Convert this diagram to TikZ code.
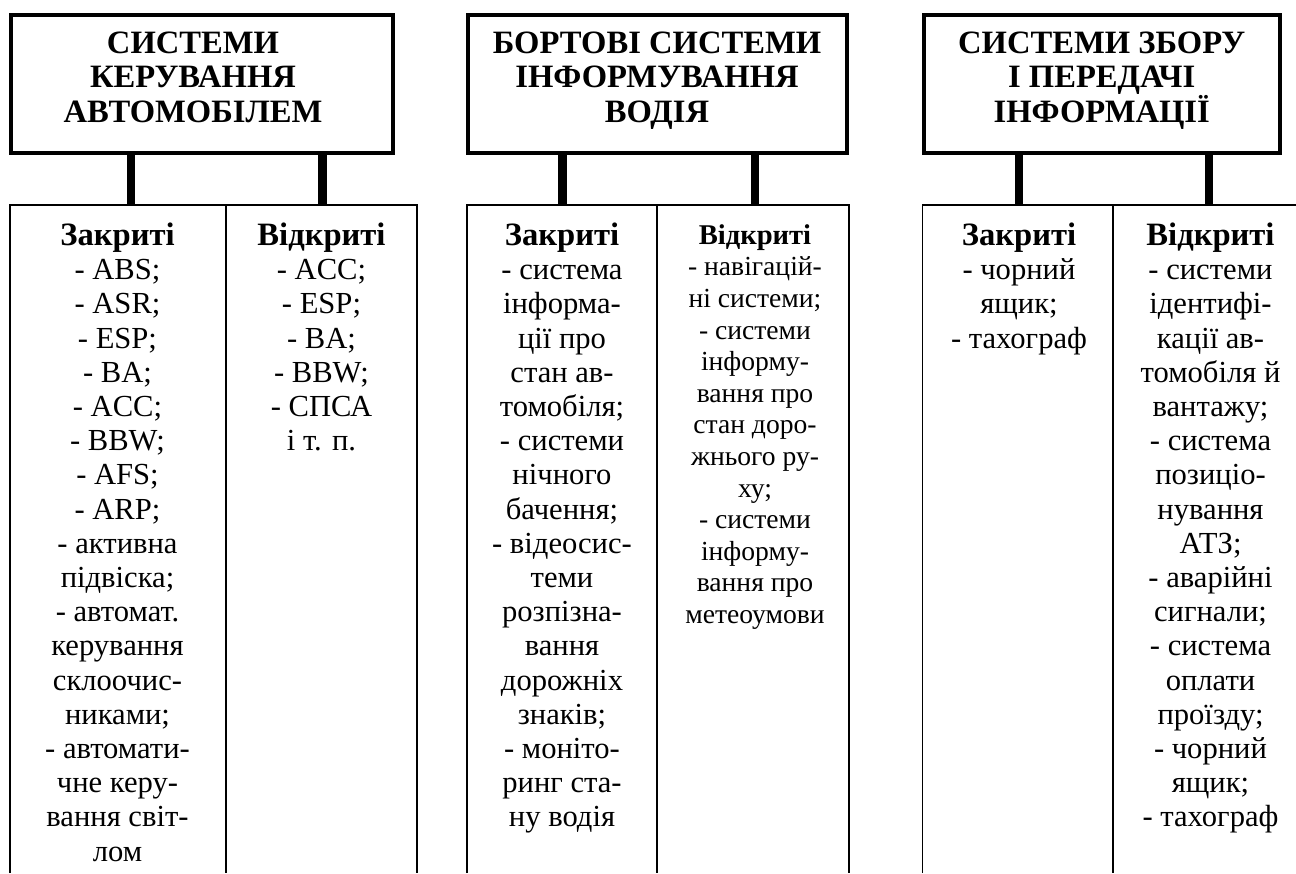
\documentclass[tikz,border=0pt]{standalone}
\usepackage{fontspec}
\setmainfont{Liberation Serif}

\tikzset{
  headbox/.style={draw, line width=2pt, inner sep=0pt, minimum height=69.15pt},
  headtext/.style={anchor=north, inner sep=0pt, align=center, font=\fontsize{16.3}{17.1}\selectfont\bfseries},
  col/.style={anchor=north, inner sep=0pt, align=center, font=\fontsize{15.3}{17.1}\selectfont},
  colsmall/.style={anchor=north, inner sep=0pt, align=center, font=\fontsize{13.8}{15.8}\selectfont},
  link/.style={line width=4.25pt},
  cell/.style={line width=0.85pt},
}
\newcommand{\colhead}[1]{{\fontsize{16.3}{17.1}\selectfont\bfseries #1}}
\newcommand{\colheadsmall}[1]{{\fontsize{14.3}{15.8}\selectfont\bfseries #1}}

\begin{document}
\begin{tikzpicture}[x=0.5pt, y=-0.5pt]
  \useasboundingbox (0,0) rectangle (1296,873);
  \clip (0,0) rectangle (1296,873);
  % Headers
  \node[headbox, minimum width=191pt] (ker) at (202,83.85) {};
  \node[headbox, minimum width=189.65pt] (bort) at (657.7,83.85) {};
  \node[headbox, minimum width=178pt] (zbor) at (1101.7,83.85) {};
  \node[headtext] (kert) at (193,31.7) {СИСТЕМИ\\КЕРУВАННЯ\\АВТОМОБІЛЕМ};
  \node[headtext] (bortt) at (657,31.7) {БОРТОВІ СИСТЕМИ\\ІНФОРМУВАННЯ\\ВОДІЯ};
  \node[headtext] (zbort) at (1101.7,31.7) {СИСТЕМИ ЗБОРУ\\І ПЕРЕДАЧІ\\ІНФОРМАЦІЇ};
  % Cells
  \draw[cell] (10,873) |- (417,205) -- (417,873);
  \draw[cell] (226,205) -- (226,873);
  \draw[cell] (467,873) |- (849,205) -- (849,873);
  \draw[cell] (657.3,205) -- (657.3,873);
  \draw[cell] (922.5,873) |- (1308,205) -- (1308,873);
  \draw[cell] (1113.3,205) -- (1113.3,873);
  % Links
  \coordinate (kerZin) at (131,205);
  \coordinate (kerVin) at (322.5,205);
  \coordinate (bortZin) at (562.5,205);
  \coordinate (bortVin) at (755,205);
  \coordinate (zborZin) at (1019,205);
  \coordinate (zborVin) at (1209,205);
  \draw[link] (ker.south -| kerZin) -- (kerZin);
  \draw[link] (ker.south -| kerVin) -- (kerVin);
  \draw[link] (bort.south -| bortZin) -- (bortZin);
  \draw[link] (bort.south -| bortVin) -- (bortVin);
  \draw[link] (zbor.south -| zborZin) -- (zborZin);
  \draw[link] (zbor.south -| zborVin) -- (zborVin);
  % Column texts
  \node[col] (kerZ) at (117.5,222.5) {\colhead{Закриті}\\- ABS;\\- ASR;\\- ESP;\\- BA;\\- ACC;\\- BBW;\\- AFS;\\- ARP;\\- активна\\підвіска;\\- автомат.\\керування\\склоочис-\\никами;\\- автомати-\\чне керу-\\вання світ-\\лом};
  \node[col] (kerV) at (321.5,222.5) {\colhead{Відкриті}\\- ACC;\\- ESP;\\- BA;\\- BBW;\\- СПСА\\і т. п.};
  \node[col] (bortZ) at (562,222.5) {\colhead{Закриті}\\- система\\інформа-\\ції про\\стан ав-\\томобіля;\\- системи\\нічного\\бачення;\\- відеосис-\\теми\\розпізна-\\вання\\дорожніх\\знаків;\\- моніто-\\ринг ста-\\ну водія};
  \node[colsmall] (bortV) at (755,224) {\colheadsmall{Відкриті}\\- навігацій-\\ні системи;\\- системи\\інформу-\\вання про\\стан доро-\\жнього ру-\\ху;\\- системи\\інформу-\\вання про\\метеоумови};
  \node[col] (zborZ) at (1019,222.5) {\colhead{Закриті}\\- чорний\\ящик;\\- тахограф};
  \node[col] (zborV) at (1210.5,222.5) {\colhead{Відкриті}\\- системи\\ідентифі-\\кації ав-\\томобіля й\\вантажу;\\- система\\позиціо-\\нування\\АТЗ;\\- аварійні\\сигнали;\\- система\\оплати\\проїзду;\\- чорний\\ящик;\\- тахограф};
\end{tikzpicture}
\end{document}
